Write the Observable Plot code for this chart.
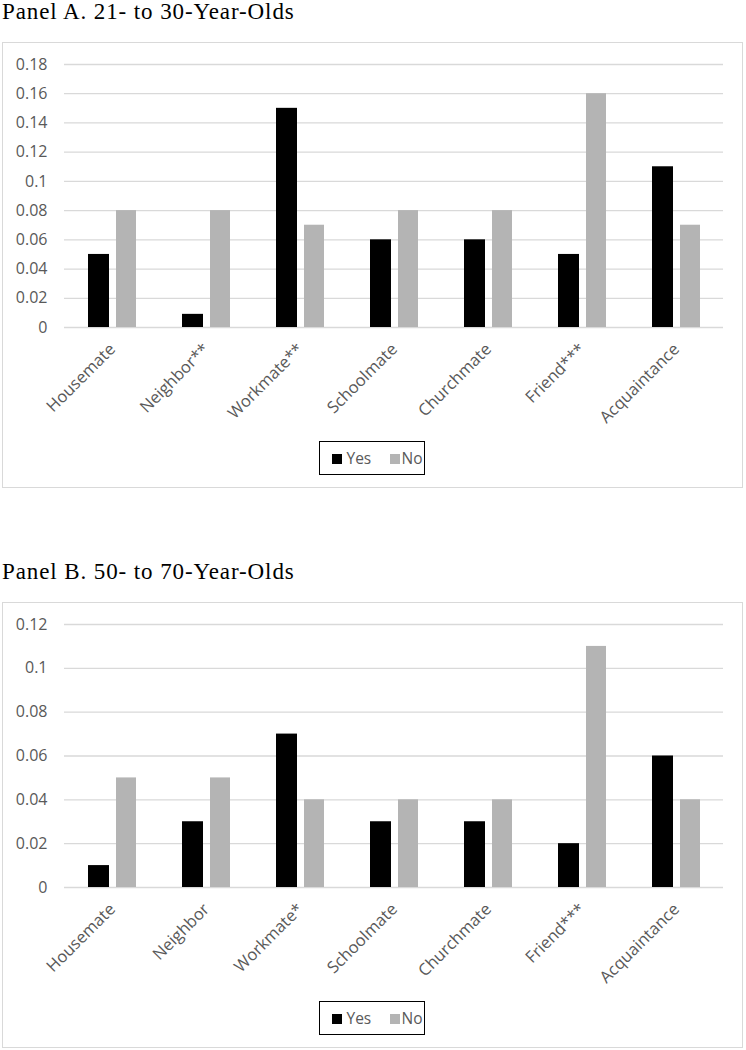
<!DOCTYPE html>
<html>
<head>
<meta charset="utf-8">
<script src="https://cdn.jsdelivr.net/npm/d3@7"></script>
<script src="https://cdn.jsdelivr.net/npm/@observablehq/plot@0.6"></script>
<style>
  html, body { margin: 0; padding: 0; background: #fff; }
  #page { position: relative; width: 746px; height: 1050px; overflow: hidden; }
  .title { position: absolute; left: 2px; font-family: "Liberation Serif", "Times New Roman", serif; font-size: 23px; line-height: 1; letter-spacing: 0.9px; color: #000; white-space: nowrap; }
  .box { position: absolute; left: 2px; width: 739px; height: 444px; border: 1.5px solid #d9d9d9; }
  .chart { position: absolute; left: 0; }
  .legend { position: absolute; left: 319px; width: 104px; height: 32px; border: 1.5px solid #000; font-family: "Open Sans", sans-serif; font-size: 15.5px; color: #595959; }
  .legend .sw { position: absolute; width: 10px; height: 10px; top: 12px; }
  .legend .lab { position: absolute; top: 5px; line-height: 22px; }
</style>
</head>
<body>
<div id="page"></div>
<script>
// ---- Data ----
const titleA = "Panel A. 21- to 30-Year-Olds";
const categoriesA = ["Housemate", "Neighbor**", "Workmate**", "Schoolmate", "Churchmate", "Friend***", "Acquaintance"];
const yesA = [0.05, 0.009, 0.15, 0.06, 0.06, 0.05, 0.11];
const noA  = [0.08, 0.08, 0.07, 0.08, 0.08, 0.16, 0.07];
const ticksA = [0, 0.02, 0.04, 0.06, 0.08, 0.1, 0.12, 0.14, 0.16, 0.18];

const titleB = "Panel B. 50- to 70-Year-Olds";
const categoriesB = ["Housemate", "Neighbor", "Workmate*", "Schoolmate", "Churchmate", "Friend***", "Acquaintance"];
const yesB = [0.01, 0.03, 0.07, 0.03, 0.03, 0.02, 0.06];
const noB  = [0.05, 0.05, 0.04, 0.04, 0.04, 0.11, 0.04];
const ticksB = [0, 0.02, 0.04, 0.06, 0.08, 0.1, 0.12];

const seriesNames = ["Yes", "No"];
const seriesColors = ["#000000", "#b4b4b4"];

// ---- Drawing ----
const page = document.getElementById("page");

function panel(title, cats, yes, no, ticks, top, titleTop) {
  const t = document.createElement("div");
  t.className = "title";
  t.style.top = titleTop + "px";
  t.textContent = title;
  page.appendChild(t);

  const rows = cats.map((c, i) => ({cat: c, yes: yes[i], no: no[i]}));
  const chart = Plot.plot({
    width: 746,
    height: 446,
    marginLeft: 64,
    marginRight: 23,
    marginTop: 22,
    marginBottom: 161,
    style: {fontFamily: "'Open Sans', sans-serif", fontSize: "16px", color: "#595959", background: "transparent"},
    x: {domain: cats, padding: 0, label: null},
    y: {domain: [0, ticks[ticks.length - 1]], label: null},
    marks: [
      Plot.ruleY(ticks, {stroke: "#d9d9d9", strokeWidth: 1.3}),
      Plot.barY(rows, {x: "cat", y: "yes", fill: seriesColors[0], insetLeft: 23, insetRight: 50}),
      Plot.barY(rows, {x: "cat", y: "no", fill: seriesColors[1], insetLeft: 51, insetRight: 23}),
      Plot.axisY({ticks: ticks, tickFormat: d => String(d), tickSize: 0, tickPadding: 17, label: null, fill: "#595959"}),
      Plot.axisX({tickRotate: -45, tickSize: 0, tickPadding: 19, label: null, fill: "#595959", fontSize: 16.5})
    ]
  });
  chart.classList.add("chart");
  chart.style.top = top + "px";
  page.appendChild(chart);

  const box = document.createElement("div");
  box.className = "box";
  box.style.top = top + "px";
  page.appendChild(box);

  const lg = document.createElement("div");
  lg.className = "legend";
  lg.style.top = (top + 399) + "px";
  const pos = [[11.5, 26.5], [69.5, 81.5]];
  seriesNames.forEach((n, i) => {
    const sw = document.createElement("div");
    sw.className = "sw";
    sw.style.left = pos[i][0] + "px";
    sw.style.background = seriesColors[i];
    lg.appendChild(sw);
    const lb = document.createElement("div");
    lb.className = "lab";
    lb.style.left = pos[i][1] + "px";
    lb.textContent = n;
    lg.appendChild(lb);
  });
  page.appendChild(lg);
}

panel(titleA, categoriesA, yesA, noA, ticksA, 42, 0);
panel(titleB, categoriesB, yesB, noB, ticksB, 602, 560);
</script>
</body>
</html>
